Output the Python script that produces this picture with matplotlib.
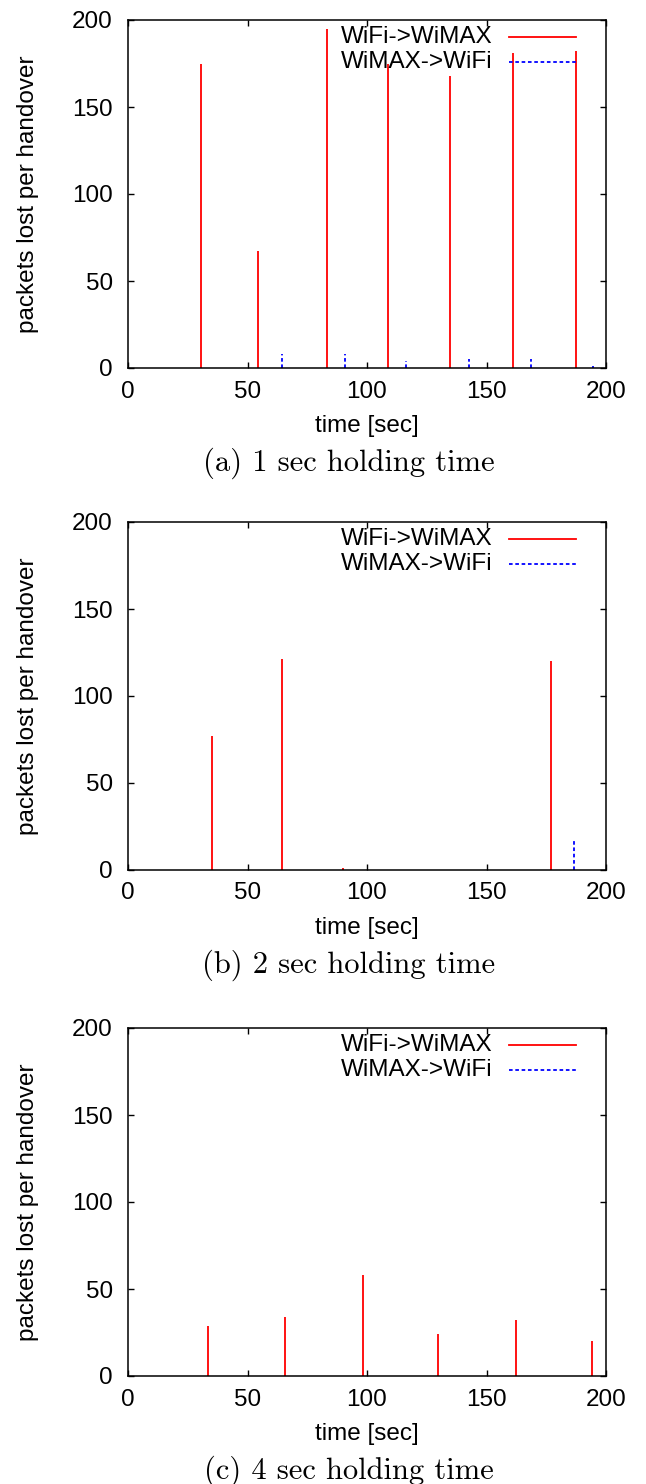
import matplotlib
matplotlib.use("Agg")
import matplotlib.pyplot as plt

plt.rcParams['font.family'] = ['Liberation Sans', 'DejaVu Sans']

# (a) 1 sec holding time
a_wifi_t = [30.4, 54.4, 83.2, 108.8, 134.8, 161.2, 187.3]
a_wifi_v = [175, 67, 195, 175, 168, 181, 182]
a_wimax_t = [64.5, 90.6, 116.5, 142.6, 168.8, 194.6]
a_wimax_v = [8, 8, 4, 5, 5, 1]

# (b) 2 sec holding time
b_wifi_t = [35.3, 64.3, 90.0, 176.8]
b_wifi_v = [77, 121, 1, 120]
b_wimax_t = [186.8]
b_wimax_v = [18]

# (c) 4 sec holding time
c_wifi_t = [33.4, 65.7, 98.2, 129.8, 162.2, 194.1]
c_wifi_v = [29, 34, 58, 24, 32, 20]
c_wimax_t = []
c_wimax_v = []

captions = ["(a) 1 sec holding time", "(b) 2 sec holding time", "(c) 4 sec holding time"]
panels = [(a_wifi_t, a_wifi_v, a_wimax_t, a_wimax_v),
          (b_wifi_t, b_wifi_v, b_wimax_t, b_wimax_v),
          (c_wifi_t, c_wifi_v, c_wimax_t, c_wimax_v)]

W, H = 646, 1484
fig = plt.figure(figsize=(W / 100, H / 100), dpi=100)

ax_tops = [20, 522, 1028]     # pixel rows of y=200
ax_h = 348
fs = 17.5

for k, (wt, wv, mt, mv) in enumerate(panels):
    top = ax_tops[k]
    ax = fig.add_axes([128 / W, 1 - (top + ax_h) / H, 478 / W, ax_h / H])
    ax.vlines(wt, 0, wv, colors='red', linewidth=1.3)
    if mt:
        ax.vlines(mt, 0, mv, colors='blue', linewidth=1.3, linestyles=(0, (2, 1.5)))
    ax.set_xlim(0, 200)
    ax.set_ylim(0, 200)
    ax.set_xticks([0, 50, 100, 150, 200])
    ax.set_yticks([0, 50, 100, 150, 200])
    ax.tick_params(direction='in', length=4.5, width=1, labelsize=fs,
                   top=True, right=True)
    ax.tick_params(axis='x', pad=9)
    ax.tick_params(axis='y', pad=11)
    for s in ax.spines.values():
        s.set_linewidth(1.1)
    ax.set_xlabel("time [sec]", fontsize=fs, labelpad=9)
    ax.set_ylabel("packets lost per handover", fontsize=fs)
    ax.yaxis.set_label_coords(-0.186, 0.5)

    # key, gnuplot style
    ax.text(0.7636, 0.951, "WiFi->WiMAX", transform=ax.transAxes,
            ha='right', va='center', fontsize=fs)
    ax.text(0.7636, 0.879, "WiMAX->WiFi", transform=ax.transAxes,
            ha='right', va='center', fontsize=fs)
    ax.plot([0.7971, 0.9372], [0.951, 0.951], color='red', linewidth=1.3,
            transform=ax.transAxes)
    ax.plot([0.7971, 0.9372], [0.879, 0.879], color='blue', linewidth=1.3,
            linestyle=(0, (2, 1.5)), transform=ax.transAxes)

    fig.text(349 / W, 1 - (top + ax_h + 95) / H, captions[k], ha='center', va='center',
             fontsize=22, family=['cmr10', 'DejaVu Serif'])

fig.savefig("out.png", dpi=100)
